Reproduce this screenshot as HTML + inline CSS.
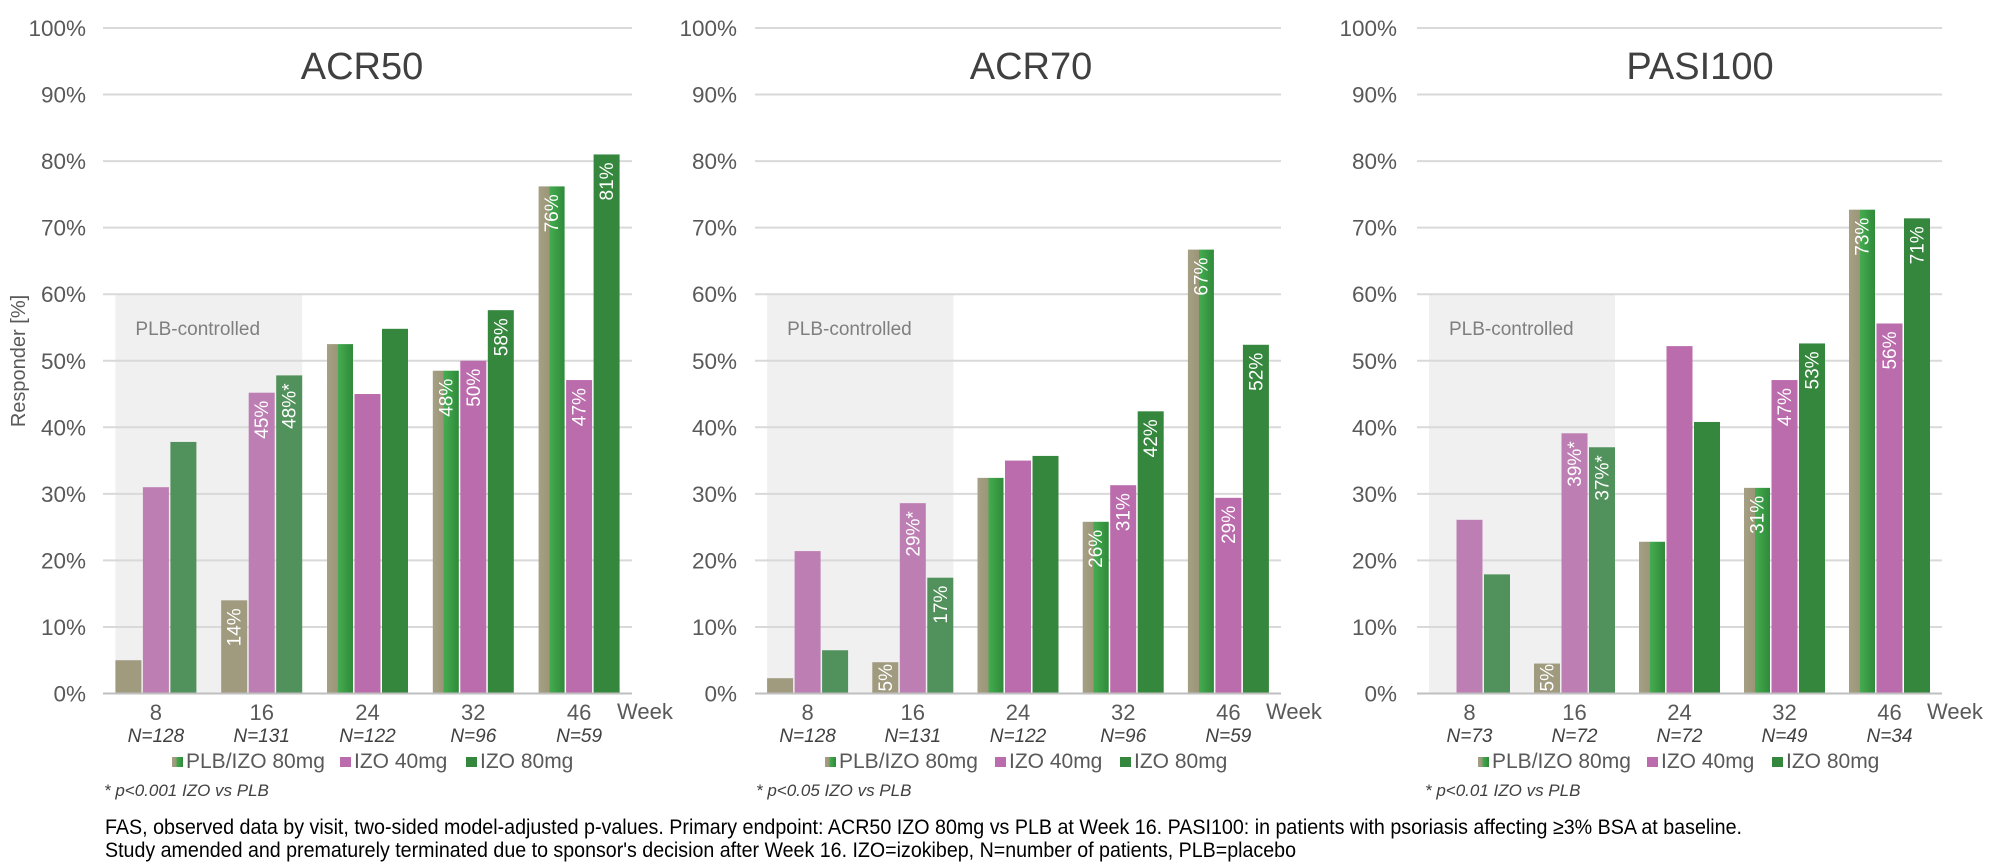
<!DOCTYPE html>
<html><head><meta charset="utf-8"><style>
html,body{margin:0;padding:0;background:#fff;}
svg{display:block;font-family:"Liberation Sans",Arial,sans-serif;}
</style></head><body>
<svg id="svg" width="2000" height="864" viewBox="0 0 2000 864" xmlns="http://www.w3.org/2000/svg">
<defs>
<linearGradient id="gsplit" x1="0" x2="1" y1="0" y2="0">
<stop offset="0" stop-color="#a59f84"/><stop offset="0.42" stop-color="#9c9678"/>
<stop offset="0.42" stop-color="#45ac50"/><stop offset="1" stop-color="#2f8a3a"/>
</linearGradient>
</defs>
</svg>
<script>
const weeks = ["8","16","24","32","46"];
const yTicks = ["0%","10%","20%","30%","40%","50%","60%","70%","80%","90%","100%"];
const titles = ["ACR50","ACR70","PASI100"];
const footnotes = ["* p<0.001 IZO vs PLB","* p<0.05 IZO vs PLB","* p<0.01 IZO vs PLB"];
const nLabels1 = ["N=128","N=131","N=122","N=96","N=59"];
const nLabels2 = ["N=128","N=131","N=122","N=96","N=59"];
const nLabels3 = ["N=73","N=72","N=72","N=49","N=34"];
const acr50Plb = [5, 14, 52.5, 48.5, 76.2];
const acr50Izo40 = [31, 45.2, 45, 50, 47.1];
const acr50Izo80 = [37.8, 47.8, 54.8, 57.6, 81];
const acr50Labels = [["","",""],["14%","45%","48%*"],["","",""],["48%","50%","58%"],["76%","47%","81%"]];
const acr70Plb = [2.3, 4.7, 32.4, 25.8, 66.7];
const acr70Izo40 = [21.4, 28.6, 35, 31.3, 29.4];
const acr70Izo80 = [6.5, 17.4, 35.7, 42.4, 52.4];
const acr70Labels = [["","",""],["5%","29%*","17%"],["","",""],["26%","31%","42%"],["67%","29%","52%"]];
const pasiPlb = [0, 4.5, 22.8, 30.9, 72.7];
const pasiIzo40 = [26.1, 39.1, 52.2, 47.1, 55.6];
const pasiIzo80 = [17.9, 37, 40.8, 52.6, 71.4];
const pasiLabels = [["","",""],["5%","39%*","37%*"],["","",""],["31%","47%","53%"],["73%","56%","71%"]];

const NS = "http://www.w3.org/2000/svg";
const svg = document.getElementById('svg');
function mk(tag, attrs, parent, text){
  const e = document.createElementNS(NS, tag);
  for (const k in attrs) e.setAttribute(k, attrs[k]);
  if (text !== undefined) e.textContent = text;
  (parent || svg).appendChild(e);
  return e;
}
const Y0 = 693.5, Y100 = 28;
function yScale(v){ return Y0 - (Y0 - Y100) * v / 100; }

const charts = [
  {left:103, right:632, lblX:86, titleX:362, legX:[172,340,466], footX:104, plb:acr50Plb, i40:acr50Izo40, i80:acr50Izo80, labels:acr50Labels, n:nLabels1},
  {left:755, right:1281, lblX:737, titleX:1031, legX:[825,995,1120], footX:756, plb:acr70Plb, i40:acr70Izo40, i80:acr70Izo80, labels:acr70Labels, n:nLabels2},
  {left:1417, right:1942, lblX:1397, titleX:1700, legX:[1478,1647,1772], footX:1425, plb:pasiPlb, i40:pasiIzo40, i80:pasiIzo80, labels:pasiLabels, n:nLabels3}
];

charts.forEach((c, ci) => {
  const g = mk('g', {});
  
  
  const catW = (c.right - c.left) / weeks.length;
  const bw = 26, gap = 1.5;
  const groupW = bw * 3 + gap * 2;
  const xBand = i => c.left + i * catW + (catW - groupW) / 2;
  const sh = mk('rect', {x:xBand(0), y:yScale(60), width:xBand(1)+groupW-xBand(0), height:Y0-yScale(60), fill:'#f0f0f0'}, g);
  
  
  const st = mk('text', {x:xBand(0)+20, y:yScale(60)+41, 'font-size':19, fill:'#7f7f7f'}, g, 'PLB-controlled');
  
  
  yTicks.forEach((t, i) => {
    const y = yScale(i * 10);
    if (i > 0) {
      const gl = mk('line', {x1:c.left, x2:c.right, y1:y, y2:y, stroke:'#d9d9d9', 'stroke-width':2}, g);
      
      
    }
    const tl = mk('text', {x:c.lblX, y:y+8, 'font-size':22.5, fill:'#595959', 'text-anchor':'end'}, g, t);
    
    
  });
  const tt = mk('text', {x:c.titleX, y:79, 'font-size':38, fill:'#404040', 'text-anchor':'middle'}, g, titles[ci]);
  
  
  const series = [c.plb, c.i40, c.i80];
  weeks.forEach((w, i) => {
    const shaded = i < 2;
    series.forEach((arr, si) => {
      const v = arr[i];
      if (!v) return;
      const x = xBand(i) + si * (bw + gap);
      const y = yScale(v);
      let fill;
      if (si === 0) fill = shaded ? '#a09a7f' : 'url(#gsplit)';
      else if (si === 1) fill = shaded ? '#bd7fb3' : '#bb6cad';
      else fill = shaded ? '#51915b' : '#35873d';
      const r = mk('rect', {x:x, y:y, width:bw, height:Y0-y, fill:fill}, g);
      
      
      const lab = c.labels[i][si];
      if (lab) {
        const tx = x + bw/2 + 6.5;
        const short = (Y0 - y) < 45;
        const ty = short ? Y0 - 2 : y + 8;
        const t = mk('text', {x:tx, y:ty, 'font-size':19, fill:'#ffffff', 'text-anchor':short ? 'start' : 'end', transform:'rotate(-90 '+tx+' '+ty+')'}, g, lab);
        
        
      }
    });
    const cx = c.left + (i + 0.5) * catW;
    const xl = mk('text', {x:cx, y:720, 'font-size':22, fill:'#595959', 'text-anchor':'middle'}, g, w);
    
    
    const nl = mk('text', {x:cx, y:742, 'font-size':19, 'font-style':'italic', fill:'#404040', 'text-anchor':'middle'}, g, c.n[i]);
    
    
  });
  const ax = mk('line', {x1:c.left, x2:c.right, y1:Y0, y2:Y0, stroke:'#bfbfbf', 'stroke-width':2}, g);
  
  
  const wk = mk('text', {x:c.right - 15, y:719, 'font-size':22, fill:'#595959'}, g, 'Week');
  
  
  const legNames = ['PLB/IZO 80mg','IZO 40mg','IZO 80mg'];
  const legFill = ['url(#gsplit)','#bb6cad','#35873d'];
  legNames.forEach((ln, li) => {
    const lg = mk('g', {}, g);
    
    
    mk('rect', {x:c.legX[li], y:757, width:11, height:10, fill:legFill[li]}, lg);
    mk('text', {x:c.legX[li]+14, y:768, 'font-size':21, fill:'#595959'}, lg, ln);
  });
  const ft = mk('text', {x:c.footX, y:796, 'font-size':17, 'font-style':'italic', fill:'#404040'}, g, footnotes[ci]);
  
  
});

const yt = mk('text', {x:25, y:361, 'font-size':20, fill:'#595959', 'text-anchor':'middle', transform:'rotate(-90 25 361)'}, svg, 'Responder [%]');



const n1 = mk('text', {x:105, y:834, 'font-size':21, fill:'#000', textLength:1637, lengthAdjust:'spacingAndGlyphs'}, svg, 'FAS, observed data by visit, two-sided model-adjusted p-values. Primary endpoint: ACR50 IZO 80mg vs PLB at Week 16. PASI100: in patients with psoriasis affecting \u22653% BSA at baseline.');


const n2 = mk('text', {x:105, y:857, 'font-size':21, fill:'#000', textLength:1191, lengthAdjust:'spacingAndGlyphs'}, svg, "Study amended and prematurely terminated due to sponsor's decision after Week 16. IZO=izokibep, N=number of patients, PLB=placebo");


</script>
</body></html>
